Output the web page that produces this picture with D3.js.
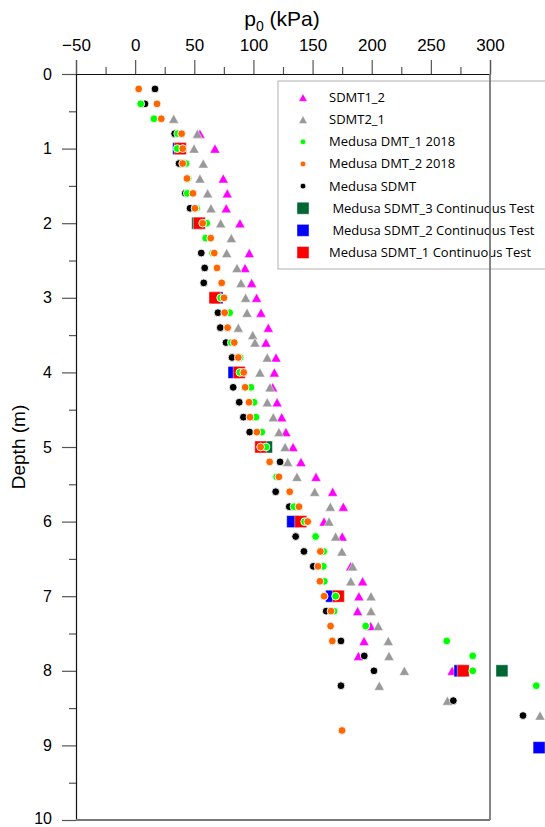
<!DOCTYPE html>
<html>
<head>
<meta charset="utf-8">
<script src="https://cdn.jsdelivr.net/npm/d3@7"></script>
<style>
  html, body { margin: 0; padding: 0; background: #fff; }
  svg { display: block; }
  .legend text { white-space: pre; }
</style>
</head>
<body>
<svg id="chart" width="545" height="827"></svg>
<script>
// Pressure p0 (kPa) versus depth (m), one array of [depth, p0] pairs per test
const sdmt1_2 = [
  [0.8, 54.8], [1.0, 67.5], [1.4, 74.5], [1.6, 77.9], [1.8, 77.0], [2.0, 88.6],
  [2.4, 96.5], [2.6, 92.9], [2.8, 98.5], [3.0, 102.7], [3.2, 106.4], [3.4, 112.6],
  [3.6, 110.6], [3.8, 119.1], [4.0, 117.7], [4.2, 116.3], [4.4, 120.0], [4.6, 123.9],
  [4.8, 127.5], [5.0, 133.5], [5.2, 140.2], [5.4, 152.9], [5.6, 167.0], [5.8, 176.0],
  [6.0, 159.7], [6.2, 175.1], [6.6, 182.2], [6.8, 192.3], [7.0, 189.2], [7.2, 188.1],
  [7.4, 199.1], [7.6, 193.5], [7.8, 188.8], [8.0, 268.0], [8.2, 352.0]
];
const sdmt2_1 = [
  [0.6, 32.6], [0.8, 52.6], [1.0, 49.8], [1.2, 57.6], [1.4, 54.8], [1.6, 61.3],
  [1.8, 64.1], [2.0, 72.3], [2.2, 81.3], [2.4, 77.4], [2.6, 86.1], [2.8, 89.5],
  [3.0, 93.4], [3.2, 94.6], [3.4, 87.2], [3.5, 99.4], [3.6, 101.3], [3.8, 111.7],
  [4.0, 105.5], [4.2, 114.0], [4.4, 111.7], [4.6, 116.8], [4.8, 121.6], [5.0, 126.8],
  [5.2, 129.0], [5.4, 136.8], [5.6, 151.8], [5.8, 165.0], [6.0, 163.9], [6.2, 169.5],
  [6.4, 174.8], [6.6, 183.9], [6.8, 182.3], [7.0, 199.4], [7.2, 199.4], [7.4, 205.5],
  [7.6, 214.0], [7.8, 214.6], [8.0, 227.6], [8.2, 206.4], [8.4, 264.0], [8.6, 342.3]
];
const medusaDmt1_2018 = [
  [0.4, 4.7], [0.6, 15.9], [0.8, 36.0], [1.0, 35.6], [1.2, 43.0], [1.4, 44.8],
  [1.6, 44.1], [1.8, 52.0], [2.0, 60.5], [2.2, 59.6], [2.4, 65.5], [3.0, 72.3],
  [3.2, 79.9], [3.6, 81.3], [3.8, 88.6], [4.0, 88.6], [4.2, 97.9], [4.4, 100.5],
  [4.6, 102.2], [4.8, 107.1], [5.0, 110.6], [5.4, 119.6], [5.8, 134.3], [6.0, 143.3],
  [6.2, 152.6], [6.4, 159.4], [6.6, 159.1], [6.8, 159.9], [7.0, 169.5], [7.2, 168.2],
  [7.4, 194.9], [7.6, 263.4], [7.8, 285.4], [8.0, 285.4], [8.2, 339.1]
];
const medusaDmt2_2018 = [
  [0.2, 3.0], [0.4, 18.5], [0.6, 22.1], [0.8, 39.3], [1.0, 40.2], [1.2, 40.2],
  [1.4, 43.8], [1.6, 48.9], [1.8, 50.6], [2.0, 57.1], [2.2, 63.9], [2.4, 66.9],
  [2.6, 69.2], [2.8, 73.2], [3.0, 75.1], [3.2, 75.7], [3.4, 78.2], [3.6, 83.8],
  [3.8, 87.2], [4.0, 91.8], [4.2, 93.0], [4.4, 96.3], [4.6, 97.1], [4.8, 102.9],
  [5.0, 106.1], [5.2, 113.7], [5.4, 121.6], [5.6, 130.7], [5.8, 138.5], [6.0, 145.9],
  [6.4, 156.6], [6.6, 154.6], [6.8, 156.2], [7.0, 159.8], [7.2, 165.6], [7.4, 165.2],
  [7.6, 166.7], [8.8, 174.9]
];
const medusaSdmt = [
  [0.2, 16.8], [0.4, 8.3], [0.8, 33.4], [1.2, 37.1], [1.6, 42.4], [1.8, 46.4],
  [2.4, 55.9], [2.6, 58.8], [2.8, 58.0], [3.2, 70.0], [3.4, 72.0], [3.6, 76.8],
  [3.8, 81.9], [4.2, 82.9], [4.4, 88.0], [4.6, 91.5], [4.8, 96.8], [5.2, 122.5],
  [5.6, 118.8], [5.8, 130.3], [6.2, 135.7], [6.4, 142.7], [6.6, 150.6], [7.2, 161.5],
  [7.6, 174.0], [7.8, 193.7], [8.0, 201.9], [8.2, 174.0], [8.4, 269.0], [8.6, 327.9]
];
const sdmt3Continuous = [[2.0, 52.9], [5.0, 111.0], [8.0, 310.1]];
const sdmt2Continuous = [
  [1.0, 36.8], [3.0, 69.2], [4.0, 83.6], [6.0, 133.2], [7.0, 166.1], [8.0, 274.6], [9.03, 341.5]
];
const sdmt1Continuous = [
  [1.0, 38.2], [2.0, 54.3], [3.0, 67.5], [4.0, 88.0], [5.0, 106.2], [6.0, 140.0],
  [7.0, 171.8], [8.0, 277.4]
];

// Axis ticks
const xTickValues = [-50, 0, 50, 100, 150, 200, 250, 300];
const xMinorValues = [-25, 25, 75, 125, 175, 225, 275];
const yTickValues = [0, 1, 2, 3, 4, 5, 6, 7, 8, 9, 10];
const yMinorValues = [0.5, 1.5, 2.5, 3.5, 4.5, 5.5, 6.5, 7.5, 8.5, 9.5];

// Series definitions, listed in drawing order (bottom to top)
const series = [
  { name: "SDMT1_2", data: sdmt1_2, shape: "triangle", color: "#ff00ff" },
  { name: "SDMT2_1", data: sdmt2_1, shape: "triangle", color: "#999999" },
  { name: " Medusa SDMT_3 Continuous Test", data: sdmt3Continuous, shape: "square", color: "#006633" },
  { name: " Medusa SDMT_2 Continuous Test", data: sdmt2Continuous, shape: "square", color: "#0000ff" },
  { name: "Medusa SDMT_1 Continuous Test", data: sdmt1Continuous, shape: "square", color: "#ff0000" },
  { name: "Medusa SDMT", data: medusaSdmt, shape: "circle", color: "#000000" },
  { name: "Medusa DMT_1 2018", data: medusaDmt1_2018, shape: "circle", color: "#00ff00" },
  { name: "Medusa DMT_2 2018", data: medusaDmt2_2018, shape: "circle", color: "#ff6600" }
];
const legendOrder = [
  "SDMT1_2", "SDMT2_1", "Medusa DMT_1 2018", "Medusa DMT_2 2018", "Medusa SDMT",
  " Medusa SDMT_3 Continuous Test", " Medusa SDMT_2 Continuous Test", "Medusa SDMT_1 Continuous Test"
];

const svg = d3.select("#chart");
const plot = { left: 76, right: 490, top: 74, bottom: 820 };

const x = d3.scaleLinear().domain([-50, 300]).range([plot.left, plot.right]);
const y = d3.scaleLinear().domain([0, 10]).range([plot.top, plot.bottom]);

const axisFont = "'Liberation Sans', Arial, sans-serif";

// Top x axis: labelled major ticks plus short minor ticks
svg.append("g")
  .attr("class", "x-axis")
  .attr("transform", `translate(0,${plot.top})`)
  .call(d3.axisTop(x).tickValues(xTickValues).tickSize(14).tickPadding(9).tickFormat(d3.format("d")));
svg.append("g")
  .attr("transform", `translate(0,${plot.top})`)
  .call(d3.axisTop(x).tickValues(xMinorValues).tickSize(7).tickFormat(""))
  .call(g => g.select(".domain").remove());

// Left y axis (depth increases downward)
svg.append("g")
  .attr("class", "y-axis")
  .attr("transform", `translate(${plot.left},0)`)
  .call(d3.axisLeft(y).tickValues(yTickValues).tickSize(14).tickPadding(10).tickFormat(d3.format("d")));
svg.append("g")
  .attr("transform", `translate(${plot.left},0)`)
  .call(d3.axisLeft(y).tickValues(yMinorValues).tickSize(7).tickFormat(""))
  .call(g => g.select(".domain").remove());

svg.selectAll(".tick text")
  .attr("font-family", axisFont)
  .attr("fill", "#000");
svg.selectAll(".x-axis .tick text").attr("font-size", 17);
svg.selectAll(".y-axis .tick text").attr("font-size", 16);
// keep the last depth label inside the bottom edge
svg.selectAll(".y-axis .tick text").filter(d => d === 10).attr("dy", "0.2em");
svg.selectAll(".tick line").attr("stroke", "#555").attr("stroke-width", 1.2);
svg.selectAll(".domain").attr("stroke", "#111").attr("stroke-width", 1.2);

// Axis titles
const title = svg.append("text")
  .attr("x", 282)
  .attr("y", 26)
  .attr("text-anchor", "middle")
  .attr("font-family", axisFont)
  .attr("font-size", 21)
  .attr("fill", "#000");
title.append("tspan").text("p");
title.append("tspan").attr("font-size", 14).attr("dy", 5).text("0");
title.append("tspan").attr("dy", -5).text(" (kPa)");

svg.append("text")
  .attr("transform", `translate(25,${(plot.top + plot.bottom) / 2}) rotate(-90)`)
  .attr("text-anchor", "middle")
  .attr("font-family", axisFont)
  .attr("font-size", 19)
  .attr("fill", "#000")
  .text("Depth (m)");

// Marker shapes
function markerPath(shape, s) {
  if (shape === "triangle") {
    const w = s, h = s * 0.9;
    return `M0,${-h / 2}L${w / 2},${h / 2}L${-w / 2},${h / 2}Z`;
  }
  if (shape === "square") {
    return `M${-s / 2},${-s / 2}h${s}v${s}h${-s}Z`;
  }
  return d3.symbol(d3.symbolCircle, Math.PI * (s / 2) * (s / 2))();
}
const plotSize = { triangle: 10, square: 12, circle: 7.8 };
const legendSize = { triangle: 8.5, square: 12, circle: 5.8 };

function strokeFor(shape) {
  return shape === "circle" ? "#ffffff" : "rgba(255,255,255,0.55)";
}

// Legend box (drawn before the right frame line so the frame passes over it)
const legendBox = { x: 278, y: 81, w: 300, h: 188 };
const legend = svg.append("g").attr("class", "legend");
legend.append("rect")
  .attr("x", legendBox.x).attr("y", legendBox.y)
  .attr("width", legendBox.w).attr("height", legendBox.h)
  .attr("fill", "#fff").attr("stroke", "#b0b0b0").attr("stroke-width", 1);

const legendY = d3.scalePoint().domain(legendOrder).range([97.5, 252.5]);
legendOrder.forEach(name => {
  const s = series.find(d => d.name === name);
  const row = legend.append("g").attr("transform", `translate(0,${legendY(name)})`);
  row.append("path")
    .attr("transform", "translate(303,0)")
    .attr("d", markerPath(s.shape, legendSize[s.shape]))
    .attr("fill", s.color)
    .attr("stroke", strokeFor(s.shape))
    .attr("stroke-width", 0.8);
  row.append("text")
    .attr("x", 329)
    .attr("dy", "0.35em")
    .attr("font-family", "'Open Sans', sans-serif")
    .attr("font-size", 13)
    .attr("fill", "#000")
    .text(s.name);
});

// Data markers
series.forEach(s => {
  svg.append("g")
    .selectAll("path")
    .data(s.data)
    .join("path")
    .attr("transform", d => `translate(${x(d[1])},${y(d[0])})`)
    .attr("d", markerPath(s.shape, plotSize[s.shape]))
    .attr("fill", s.color)
    .attr("stroke", strokeFor(s.shape))
    .attr("stroke-width", s.shape === "circle" ? 0.9 : 0.8);
});

// Right and bottom frame lines
svg.append("line")
  .attr("x1", plot.right).attr("x2", plot.right)
  .attr("y1", plot.top).attr("y2", plot.bottom)
  .attr("stroke", "#777").attr("stroke-width", 1.8);
svg.append("line")
  .attr("x1", plot.left).attr("x2", plot.right)
  .attr("y1", plot.bottom).attr("y2", plot.bottom)
  .attr("stroke", "#777").attr("stroke-width", 1.8);
</script>
</body>
</html>
